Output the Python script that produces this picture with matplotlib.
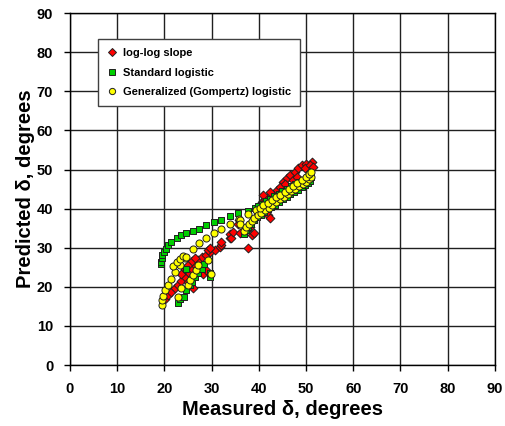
import matplotlib
matplotlib.use("Agg")
import matplotlib.pyplot as plt
from matplotlib.lines import Line2D

plt.rcParams['font.family'] = ['Liberation Sans', 'DejaVu Sans']
plt.rcParams['font.weight'] = 'bold'

# log-log slope (red diamonds)
red_x = [20.1, 20.8, 21.5, 22.2, 22.9, 23.6, 24.4, 25.1, 25.8, 26.5, 27.2, 27.9, 28.9, 29.6, 30.7, 31.8,
         23.6, 24.4, 25.1, 25.8, 26.5, 25.1, 26.1, 28.2, 28.9, 29.3, 29.6,
         32.1, 32.1, 33.9, 33.9, 34.2, 34.6, 36.4, 35.6, 35.8, 36.0, 37.8, 38.5, 39.0, 38.1,
         42.0, 42.4,
         40.6, 41.3, 42.4, 43.8, 45.2, 45.9, 46.6, 47.6, 48.3, 49.1, 50.1, 51.2,
         40.9, 42.4, 44.5, 45.5, 47.3, 48.0, 49.8, 50.8, 51.5]
red_y = [17.0, 17.9, 18.7, 19.6, 20.5, 21.5, 22.6, 23.7, 24.7, 25.7, 26.8, 27.7, 28.1, 29.0, 29.4, 30.3,
         23.4, 24.7, 25.6, 26.6, 27.3, 21.3, 19.6, 23.4, 24.3, 29.4, 30.0,
         30.7, 31.5, 32.4, 33.6, 32.4, 34.1, 34.1, 36.2, 37.2, 33.9, 30.0, 33.2, 33.9, 35.4,
         38.3, 37.5,
         41.8, 42.6, 43.5, 44.7, 46.9, 47.8, 48.6, 49.4, 50.3, 51.1, 51.5, 52.0,
         43.5, 44.2, 45.6, 46.2, 47.3, 48.2, 50.3, 51.1, 50.7]

# Standard logistic (green squares)
green_x = [19.4, 19.4, 19.5, 19.6, 19.9, 20.3, 20.8, 21.5, 22.6, 23.6, 24.7, 26.0, 27.3, 28.9, 30.5, 32.1,
           33.9, 35.6, 37.8, 39.2,
           22.9, 23.3, 24.2, 24.7, 25.4, 25.8, 26.5, 27.2, 27.9, 28.4, 24.7, 29.6, 29.7,
           36.8, 37.3, 37.8, 38.4, 39.0, 39.7, 40.4, 41.1, 41.9, 42.7, 43.5, 44.3, 45.1, 45.9,
           46.7, 47.5, 48.3, 49.1, 49.8, 50.4, 50.9,
           39.8, 40.6, 41.5, 42.4, 43.3, 44.2, 45.0, 45.9, 46.8, 47.7, 48.6, 49.5, 50.3, 51.0]
green_y = [25.8, 26.4, 27.3, 28.1, 29.0, 29.8, 30.7, 31.5, 32.5, 33.2, 33.8, 34.3, 34.9, 35.8, 36.5, 37.2,
           38.2, 38.9, 39.5, 40.3,
           16.0, 17.0, 17.5, 19.2, 20.5, 21.3, 22.6, 23.6, 24.7, 25.8, 24.7, 22.6, 23.5,
           33.5, 34.5, 35.4, 36.2, 37.0, 37.8, 38.5, 39.1, 39.8, 40.4, 41.0, 41.7, 42.4, 43.0,
           43.7, 44.3, 44.9, 45.5, 46.0, 46.5, 47.0,
           40.6, 41.3, 42.0, 42.6, 43.2, 43.8, 44.5, 45.1, 45.7, 46.2, 46.8, 47.2, 47.6, 48.0]

# Generalized (Gompertz) logistic (yellow circles)
yellow_x = [19.6, 19.6, 19.8, 20.1, 20.8, 21.5, 22.2, 23.3, 24.4, 26.0, 27.4, 28.9, 30.5, 32.1, 33.9, 35.8,
            37.8, 39.4,
            21.9, 22.6, 23.3, 24.0, 24.7,
            22.9, 23.6, 25.1, 25.4, 26.1, 26.8, 27.2, 29.9, 29.3, 36.0, 36.0,
            36.9, 37.4, 37.9, 38.5, 39.1, 39.8, 40.5, 41.3, 42.1, 42.9, 43.7, 44.5, 45.3, 46.1,
            46.9, 47.7, 48.5, 49.3, 50.0, 50.6, 51.0,
            40.2, 41.0, 41.9, 42.8, 43.7, 44.6, 45.5, 46.4, 47.3, 48.2, 49.1, 50.0, 50.7, 51.1]
yellow_y = [15.3, 16.6, 17.6, 19.2, 20.6, 22.1, 23.9, 25.6, 27.3, 29.7, 31.1, 32.4, 33.7, 34.7, 36.2, 37.4,
            38.6, 39.6,
            25.4, 26.4, 27.1, 27.8, 27.7,
            17.5, 19.6, 20.6, 21.7, 23.0, 24.3, 25.6, 23.2, 26.8, 37.1, 36.2,
            34.3, 35.2, 36.0, 36.8, 37.6, 38.3, 39.0, 39.7, 40.3, 41.0, 41.7, 42.4, 43.1, 43.8,
            44.4, 45.0, 45.7, 46.3, 46.9, 47.5, 48.0,
            40.2, 40.9, 41.5, 42.2, 42.9, 43.6, 44.3, 45.0, 45.7, 46.5, 47.3, 48.2, 48.8, 49.3]

ticks = [0, 10, 20, 30, 40, 50, 60, 70, 80, 90]

fig = plt.figure(figsize=(5.06, 4.26), dpi=100)
ax = fig.add_axes([0.138, 0.143, 0.840, 0.826])

ax.scatter(red_x, red_y, marker='D', s=20, c='#ff0000', edgecolors='#202020', linewidths=0.7, zorder=3)
ax.scatter(green_x, green_y, marker='s', s=24, c='#00d000', edgecolors='#202020', linewidths=0.7, zorder=3)
ax.scatter(yellow_x, yellow_y, marker='o', s=26, c='#ffff00', edgecolors='#202020', linewidths=0.7, zorder=3)

ax.set_xlim(0, 90)
ax.set_ylim(0, 90)
ax.set_xticks(ticks)
ax.set_yticks(ticks)
ax.grid(True, color='#202020', linewidth=1.0)
ax.set_axisbelow(True)
for s in ax.spines.values():
    s.set_color('black')
    s.set_linewidth(1.0)
ax.tick_params(direction='out', length=4, width=1, labelsize=10.5, pad=8)
for lab in ax.get_xticklabels() + ax.get_yticklabels():
    lab.set_fontweight('bold')

ax.set_xlabel('Measured δ, degrees', fontsize=14.5, fontweight='bold', labelpad=3)
ax.set_ylabel('Predicted δ, degrees', fontsize=14.5, fontweight='bold', labelpad=1)

handles = [
    Line2D([], [], marker='D', linestyle='none', markersize=4, markerfacecolor='#ff0000',
           markeredgecolor='#202020', markeredgewidth=0.7, label='log-log slope'),
    Line2D([], [], marker='s', linestyle='none', markersize=4.5, markerfacecolor='#00d000',
           markeredgecolor='#202020', markeredgewidth=0.7, label='Standard logistic'),
    Line2D([], [], marker='o', linestyle='none', markersize=4.5, markerfacecolor='#ffff00',
           markeredgecolor='#202020', markeredgewidth=0.7, label='Generalized (Gompertz) logistic'),
]
leg = ax.legend(handles=handles, loc='upper left', bbox_to_anchor=(0.066, 0.926), borderaxespad=0,
                fancybox=False, framealpha=1, edgecolor='#404040', handlelength=1.0,
                handletextpad=0.5, borderpad=0.8, labelspacing=0.85, prop={'weight': 'bold', 'size': 8})
leg.get_frame().set_linewidth(1.0)

fig.savefig('out.png', dpi=100)
